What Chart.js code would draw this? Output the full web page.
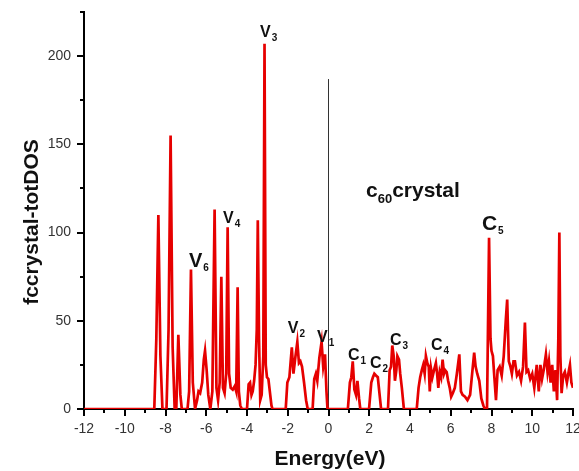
<!DOCTYPE html>
<html>
<head>
<meta charset="utf-8">
<script src="https://cdn.jsdelivr.net/npm/chart.js@4/dist/chart.umd.min.js"></script>
<style>
  body { margin: 0; background: #fff; }
  canvas { display: block; }
</style>
</head>
<body>
<canvas id="myChart" width="579" height="471"></canvas>
<script>
// energies (eV) and total DOS
var energy = [
    -12, -8.55, -8.45, -8.35, -8.25, -8.15,
    -7.95, -7.85, -7.75, -7.65, -7.55,
    -7.47, -7.37, -7.27, -7.2,
    -6.92, -6.84, -6.75, -6.66, -6.55,
    -6.45, -6.38, -6.3, -6.2, -6.12, -6.06, -5.98, -5.9, -5.8,
    -5.7, -5.59, -5.5, -5.42,
    -5.34, -5.26, -5.18, -5.1,
    -5.02, -4.95, -4.88, -4.8, -4.7, -4.6, -4.53,
    -4.46, -4.4, -4.33, -4.25,
    -4.0, -3.92, -3.85, -3.78, -3.72, -3.65, -3.58, -3.52, -3.47, -3.41,
    -3.35, -3.28, -3.2, -3.14, -3.08, -3.02, -2.95, -2.88, -2.8, -2.75,
    -2.1, -2.02, -1.92, -1.8, -1.72, -1.62, -1.53, -1.45, -1.38, -1.3, -1.2, -1.1, -1.02,
    -0.78, -0.7, -0.62, -0.55, -0.45, -0.34, -0.26, -0.17, -0.1, -0.05,
    0.95, 1.05, 1.12, 1.19, 1.27, 1.35, 1.42, 1.5, 1.56,
    1.99, 2.1, 2.18, 2.25, 2.33, 2.42, 2.5, 2.58,
    2.92, 3.0, 3.07, 3.13, 3.2, 3.26, 3.33, 3.38, 3.46, 3.52, 3.6, 3.7,
    4.33, 4.42, 4.5, 4.58, 4.65, 4.72, 4.78, 4.85, 4.92, 4.97,
    5.03, 5.1, 5.18, 5.27, 5.33, 5.39, 5.46, 5.53, 5.6, 5.67,
    5.73, 5.8, 5.87, 5.95, 6.02, 6.1, 6.2, 6.3, 6.42, 6.5,
    6.58, 6.7, 6.82, 6.95, 7.05, 7.15, 7.22, 7.3, 7.4, 7.5,
    7.6, 7.68,
    7.78, 7.88, 7.95, 8.0, 8.07, 8.14, 8.22, 8.3, 8.4, 8.5,
    8.6, 8.7, 8.77, 8.85, 8.93, 9.0, 9.08, 9.15, 9.25, 9.35,
    9.45, 9.55, 9.64, 9.72, 9.8, 9.9, 10.0, 10.1, 10.22, 10.32,
    10.4, 10.48, 10.56, 10.67, 10.75, 10.82, 10.9, 10.98, 11.06, 11.14,
    11.22, 11.28, 11.33, 11.38, 11.44, 11.52, 11.6, 11.7, 11.8, 11.85,
    11.92, 12
];
var dos = [
    0, 0, 40, 110, 30, 0,
    0, 45, 155, 35, 0,
    0, 42, 8, 0,
    0, 10, 79, 15, 0,
    5, 10, 9, 15, 28, 33, 22, 8, 0,
    10, 113, 12, 5,
    15, 75, 12, 9,
    20, 103, 20, 12, 11, 13, 10,
    69, 10, 2, 0,
    0, 14, 15, 8, 10, 16, 25, 45, 107, 40,
    5, 8, 30, 207, 25, 18, 17, 10, 2, 0,
    0, 15, 18, 35, 20, 30, 38, 26, 27, 24, 15, 5, 0,
    0, 17, 20, 16, 29, 38, 24, 31, 10, 0,
    0, 15, 18, 27, 11, 8, 16, 6, 0,
    0, 15, 18, 20, 19, 18, 9, 0,
    0, 22, 24, 36, 30, 16, 22, 30, 28, 20, 12, 0,
    0, 12, 18, 22, 25, 20, 30, 26, 24, 10,
    23, 18, 22, 26, 20, 12, 21, 18, 28, 20,
    22, 21, 16, 12, 7, 9, 12, 20, 31, 10,
    8, 7, 5, 8, 20, 32, 24, 20, 16, 6,
    2, 0,
    0, 97, 40, 33, 30, 18, 5, 22, 24, 19,
    30, 50, 62, 27, 24, 20, 27, 27, 19, 21,
    16, 24, 49, 21, 22, 17, 20, 12, 25, 10,
    25, 17, 22, 31, 21, 27, 15, 25, 10, 22,
    5, 40, 100, 30, 9, 19, 21, 15, 22, 25,
    15, 12
];

// Fermi level marker
var fermiX = [0, 0];
var fermiY = [0, 187];

var xTickLabels = [-12, -10, -8, -6, -4, -2, 0, 2, 4, 6, 8, 10, 12];
var yTickLabels = [0, 50, 100, 150, 200];

// peak labels: letter, subscript, data position (left, baseline)
var peakNames = ['V', 'V', 'V', 'V', 'V', 'C', 'C', 'C', 'C', 'C'];
var peakSubs = ['3', '4', '6', '2', '1', '1', '2', '3', '4', '5'];
var peakX = [-3.36, -5.18, -6.85, -2.0, -0.56, 0.96, 2.04, 3.02, 5.03, 7.53];
var peakY = [210.6, 105.3, 80.4, 43.0, 37.9, 27.8, 23.2, 36.2, 33.4, 101.4];
var peakSize = [16, 16, 20, 16, 16, 16, 16, 16, 16, 21];

var FONT = '"Liberation Sans", Arial, sans-serif';

var points = [];
for (var i = 0; i < energy.length; i++) {
    points.push({x: energy[i], y: dos[i]});
}
var fermi = [];
for (var j = 0; j < fermiX.length; j++) {
    fermi.push({x: fermiX[j], y: fermiY[j]});
}

var extras = {
    id: 'extras',
    afterDraw: function (chart) {
        var ctx = chart.ctx;
        var xs = chart.scales.x, ys = chart.scales.y;
        var area = chart.chartArea;
        ctx.save();
        ctx.strokeStyle = '#000';
        ctx.lineWidth = 2;
        // x tick marks
        for (var v = -12; v <= 12; v++) {
            var px = Math.round(xs.getPixelForValue(v));
            var len = (v % 2 === 0) ? 7 : 4;
            ctx.beginPath();
            ctx.moveTo(px, area.bottom);
            ctx.lineTo(px, area.bottom + len);
            ctx.stroke();
        }
        // y tick marks
        for (var w = 0; w <= 225; w += 25) {
            var py = Math.round(ys.getPixelForValue(w));
            var l2 = (w % 50 === 0) ? 7 : 4;
            ctx.beginPath();
            ctx.moveTo(area.left, py);
            ctx.lineTo(area.left - l2, py);
            ctx.stroke();
        }

        ctx.fillStyle = '#111';
        ctx.textAlign = 'left';
        ctx.textBaseline = 'alphabetic';
        for (var k = 0; k < peakNames.length; k++) {
            var lx = xs.getPixelForValue(peakX[k]);
            var ly = ys.getPixelForValue(peakY[k]);
            ctx.font = 'bold ' + peakSize[k] + 'px ' + FONT;
            ctx.fillText(peakNames[k], lx, ly);
            var wd = ctx.measureText(peakNames[k]).width;
            ctx.font = 'bold 10px ' + FONT;
            ctx.fillText(peakSubs[k], lx + wd + 1, ly + 4);
        }

        // c60crystal
        var cx = xs.getPixelForValue(1.84);
        var cy = ys.getPixelForValue(120.2);
        ctx.font = 'bold 21px ' + FONT;
        ctx.fillText('c', cx, cy);
        var cw = ctx.measureText('c').width;
        ctx.font = 'bold 13px ' + FONT;
        ctx.fillText('60', cx + cw, cy + 6);
        var sw = ctx.measureText('60').width;
        ctx.font = 'bold 21px ' + FONT;
        ctx.fillText('crystal', cx + cw + sw, cy);

        // axis titles
        ctx.font = 'bold 21px ' + FONT;
        ctx.textAlign = 'center';
        ctx.fillText('Energy(eV)', 330, 465);
        ctx.translate(38, 222);
        ctx.rotate(-Math.PI / 2);
        ctx.fillText('fccrystal-totDOS', 0, 0);
        ctx.restore();
    }
};

var ctx = document.getElementById('myChart').getContext('2d');
var chart = new Chart(ctx, {
    type: 'line',
    data: {
        datasets: [{
            label: 'totDOS',
            data: points,
            borderColor: '#e60000',
            borderWidth: 2.7,
            pointRadius: 0,
            tension: 0,
            fill: false
        }, {
            label: 'Ef',
            data: fermi,
            borderColor: '#333',
            borderWidth: 1,
            pointRadius: 0,
            fill: false
        }]
    },
    options: {
        responsive: false,
        animation: false,
        layout: {padding: {left: 0, right: 6, top: 12, bottom: 0}},
        plugins: {legend: {display: false}, tooltip: {enabled: false}},
        scales: {
            x: {
                type: 'linear',
                min: -12,
                max: 12,
                grid: {display: false, drawTicks: false},
                border: {display: true, color: '#000', width: 2},
                ticks: {
                    stepSize: 1,
                    autoSkip: false,
                    maxRotation: 0,
                    padding: 12,
                    color: '#333',
                    font: {family: FONT, size: 14},
                    callback: function (v) {
                        return xTickLabels.indexOf(v) >= 0 ? String(v) : '';
                    }
                },
                afterFit: function (scale) {
                    scale.height = 62;
                    scale.paddingLeft = 0;
                    scale.paddingRight = 0;
                }
            },
            y: {
                min: 0,
                max: 225,
                grid: {display: false, drawTicks: false},
                border: {display: true, color: '#000', width: 2},
                ticks: {
                    stepSize: 25,
                    autoSkip: false,
                    padding: 13,
                    color: '#333',
                    font: {family: FONT, size: 14},
                    callback: function (v) {
                        return yTickLabels.indexOf(v) >= 0 ? String(v) : '';
                    }
                },
                afterFit: function (scale) {
                    scale.width = 84;
                    scale.paddingTop = 0;
                    scale.paddingBottom = 0;
                }
            }
        }
    },
    plugins: [extras]
});
</script>
</body>
</html>
